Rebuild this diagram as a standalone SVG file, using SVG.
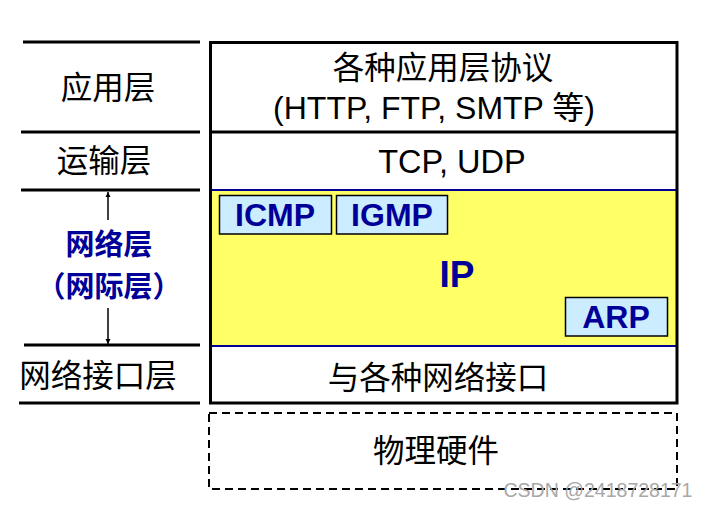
<svg xmlns="http://www.w3.org/2000/svg" width="709" height="507" viewBox="0 0 709 507">
<defs>
<style>
.t{font-family:"Liberation Sans","Noto Sans CJK SC",Arial,sans-serif;fill:#000;text-anchor:middle}
.cn{font-family:"Noto Sans CJK SC","Liberation Sans",sans-serif;fill:#000;text-anchor:middle}
.blue{font-family:"Liberation Sans","Noto Sans CJK SC",Arial,sans-serif;fill:#000099;font-weight:bold;text-anchor:middle}
.bcn{font-family:"Noto Sans CJK SC",sans-serif;fill:#000099;font-weight:bold;text-anchor:middle}
.sep{stroke:#000;stroke-width:3}
.proto{fill:#CCECFF;stroke:#000;stroke-width:1.5}
</style>
<marker id="ah" viewBox="0 0 10 10" refX="10" refY="5" markerWidth="5" markerHeight="8" orient="auto" markerUnits="userSpaceOnUse">
<path d="M0,0 L10,5 L0,10 z" fill="#000"/>
</marker>
</defs>
<rect width="709" height="507" fill="#fff"/>

<g id="left-labels">
<line class="sep" x1="23" y1="42" x2="200" y2="42"/>
<line class="sep" x1="21" y1="132" x2="200" y2="132"/>
<line class="sep" x1="21" y1="190" x2="200" y2="190"/>
<line class="sep" x1="24" y1="345" x2="200" y2="345"/>
<line class="sep" x1="19" y1="403" x2="200" y2="403"/>
<text class="cn" x="108" y="99" font-size="31.5">应用层</text>
<text class="cn" x="104" y="172" font-size="31.5">运输层</text>
<text class="bcn" x="109" y="255" font-size="29">网络层</text>
<text class="bcn" x="109" y="297" font-size="29">（网际层）</text>
<text class="cn" x="98" y="387" font-size="31.5">网络接口层</text>
</g>

<g id="connectors">
<line x1="108" y1="220" x2="108" y2="192" stroke="#000" stroke-width="1.5" marker-end="url(#ah)"/>
<line x1="108" y1="308" x2="108" y2="344" stroke="#000" stroke-width="1.5" marker-end="url(#ah)"/>
</g>

<g id="application">
<rect x="210" y="42" width="467" height="90" fill="#fff"/>
<text class="cn" x="443" y="79" font-size="31.5">各种应用层协议</text>
<text class="t" x="434" y="119" font-size="32">(HTTP, FTP, SMTP 等)</text>
</g>

<g id="transport">
<text class="t" x="452" y="173" font-size="32.5">TCP, UDP</text>
</g>

<g id="network">
<rect x="210" y="190" width="467" height="156" fill="#FFFF66"/>
<line x1="210" y1="190" x2="677" y2="190" stroke="#000099" stroke-width="2"/>
<line x1="210" y1="346" x2="677" y2="346" stroke="#000099" stroke-width="2"/>
<text class="blue" x="457" y="287" font-size="37">IP</text>
</g>

<g id="icmp">
<rect class="proto" x="219.5" y="195.5" width="112" height="38.5"/>
<text class="blue" x="275" y="226" font-size="32">ICMP</text>
</g>
<g id="igmp">
<rect class="proto" x="336.5" y="195.5" width="111" height="38.5"/>
<text class="blue" x="392" y="226" font-size="32">IGMP</text>
</g>
<g id="arp">
<rect class="proto" x="565.5" y="297.5" width="102" height="38.5"/>
<text class="blue" x="616" y="328" font-size="32">ARP</text>
</g>

<g id="link">
<text class="cn" x="438" y="389" font-size="31.5">与各种网络接口</text>
</g>

<g id="frame">
<line class="sep" x1="210" y1="132" x2="677" y2="132"/>
<rect x="210.5" y="42.5" width="466.5" height="360.5" fill="none" stroke="#000" stroke-width="3"/>
</g>

<g id="hardware">
<rect x="209" y="413" width="468" height="76" fill="none" stroke="#000" stroke-width="2" stroke-dasharray="8,5"/>
<text class="cn" x="436" y="462" font-size="31.5">物理硬件</text>
</g>

<text x="598" y="497" font-family="Liberation Sans, Arial, sans-serif" font-size="19.5" fill="#a8a8a8" text-anchor="middle">CSDN @2418728171</text>
</svg>
